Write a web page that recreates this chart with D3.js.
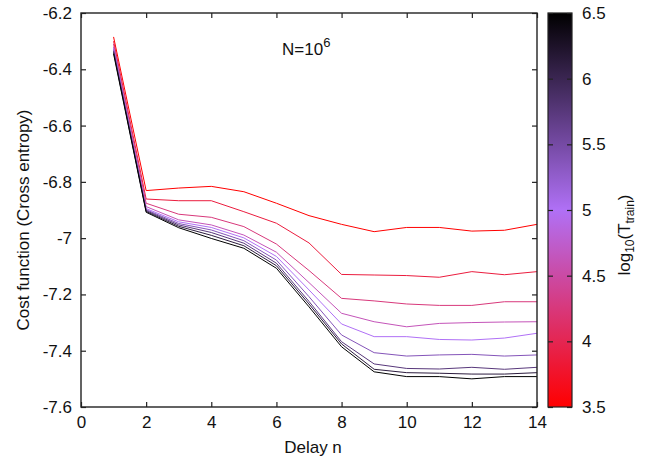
<!DOCTYPE html>
<html>
<head>
<meta charset="utf-8">
<script src="https://cdn.jsdelivr.net/npm/d3@7"></script>
<style>
  body { margin: 0; background: #fff; }
  text { font-family: "Liberation Sans", Arial, sans-serif; fill: #111; }
</style>
</head>
<body>
<svg id="chart" width="649" height="460"></svg>
<script>

// eje x: retardo n
var delays = [1, 2, 3, 4, 5, 6, 7, 8, 9, 10, 11, 12, 13, 14];

// log10(T_train) de cada curva
var logT = [3.5, 3.875, 4.25, 4.625, 5, 5.375, 5.75, 6.125, 6.5];

// costo (cross entropy) por curva
var cost35  = [-6.285, -6.831, -6.822, -6.816, -6.835, -6.876, -6.920, -6.951, -6.977, -6.962, -6.962, -6.975, -6.972, -6.951];
var cost39  = [-6.300, -6.861, -6.867, -6.867, -6.906, -6.947, -7.017, -7.129, -7.131, -7.133, -7.139, -7.119, -7.130, -7.119];
var cost43  = [-6.310, -6.876, -6.915, -6.926, -6.959, -7.021, -7.115, -7.214, -7.223, -7.234, -7.239, -7.239, -7.226, -7.226];
var cost46  = [-6.320, -6.888, -6.935, -6.953, -6.989, -7.050, -7.158, -7.267, -7.297, -7.315, -7.303, -7.300, -7.298, -7.297];
var cost50  = [-6.325, -6.895, -6.942, -6.962, -6.999, -7.065, -7.184, -7.305, -7.350, -7.350, -7.360, -7.362, -7.355, -7.338];
var cost54  = [-6.330, -6.899, -6.948, -6.971, -7.009, -7.078, -7.208, -7.344, -7.407, -7.419, -7.415, -7.413, -7.419, -7.415];
var cost58  = [-6.335, -6.902, -6.953, -6.980, -7.018, -7.089, -7.225, -7.368, -7.447, -7.463, -7.465, -7.459, -7.466, -7.459];
var cost61  = [-6.340, -6.905, -6.958, -6.990, -7.027, -7.098, -7.234, -7.376, -7.466, -7.478, -7.480, -7.483, -7.483, -7.478];
var cost65  = [-6.345, -6.908, -6.963, -7.001, -7.036, -7.107, -7.244, -7.386, -7.475, -7.492, -7.492, -7.500, -7.492, -7.492];
var costSeries = [cost35, cost39, cost43, cost46, cost50, cost54, cost58, cost61, cost65];

var xTicks = [0, 2, 4, 6, 8, 10, 12, 14];
var yTicks = [-6.2, -6.4, -6.6, -6.8, -7, -7.2, -7.4, -7.6];
var cbTicks = [3.5, 4, 4.5, 5, 5.5, 6, 6.5];

var LEFT = 81, RIGHT = 537, TOP = 13, BOTTOM = 407;
var TICK = 5;

var svg = d3.select('#chart');

var x = d3.scaleLinear().domain([0, 14]).range([LEFT, RIGHT]);
var y = d3.scaleLinear().domain([-7.6, -6.2]).range([BOTTOM, TOP]);
var color = d3.scaleLinear().domain([3.5, 5, 6.5]).range(['#ff0000', '#b070f6', '#000000']);
var cbY = d3.scaleLinear().domain([3.5, 6.5]).range([BOTTOM, TOP]);

function estiloEje(g){
  g.select('.domain').remove();
  g.selectAll('line').attr('stroke', '#222').attr('stroke-width', 1.2);
  g.selectAll('text').attr('font-size', 17).attr('fill', '#111');
}

// curvas
var line = d3.line()
  .x(function(d, i){ return x(delays[i]); })
  .y(function(d){ return y(d); });

svg.append('g').selectAll('path').data(costSeries).enter().append('path')
  .attr('d', line)
  .attr('fill', 'none')
  .attr('stroke', function(d, i){ return color(logT[i]); })
  .attr('stroke-width', 1);

// ejes con ticks hacia adentro
svg.append('g')
  .attr('transform', 'translate(0,' + BOTTOM + ')')
  .call(d3.axisBottom(x).tickValues(xTicks).tickSizeInner(-TICK).tickSizeOuter(0).tickPadding(9).tickFormat(d3.format('d')))
  .call(estiloEje);

svg.append('g')
  .attr('transform', 'translate(0,' + TOP + ')')
  .call(d3.axisTop(x).tickValues(xTicks).tickSizeInner(-TICK).tickSizeOuter(0).tickFormat(''))
  .call(estiloEje);

svg.append('g')
  .attr('transform', 'translate(' + LEFT + ',0)')
  .call(d3.axisLeft(y).tickValues(yTicks).tickSizeInner(-TICK).tickSizeOuter(0).tickPadding(9).tickFormat(function(d){ return String(+d.toFixed(1)); }))
  .call(estiloEje);

svg.append('g')
  .attr('transform', 'translate(' + RIGHT + ',0)')
  .call(d3.axisRight(y).tickValues(yTicks).tickSizeInner(-TICK).tickSizeOuter(0).tickFormat(''))
  .call(estiloEje);

svg.append('rect')
  .attr('x', LEFT).attr('y', TOP)
  .attr('width', RIGHT - LEFT).attr('height', BOTTOM - TOP)
  .attr('fill', 'none').attr('stroke', '#222').attr('stroke-width', 1.4);

// titulo N=10^6
var titulo = svg.append('text')
  .attr('x', 282).attr('y', 55)
  .attr('font-size', 17);
titulo.append('tspan').text('N=10');
titulo.append('tspan').attr('dy', -8).attr('font-size', 13).text('6');

// etiquetas de ejes
svg.append('text')
  .attr('x', x(7) + 4).attr('y', 453)
  .attr('text-anchor', 'middle')
  .attr('font-size', 17)
  .text('Delay n');

svg.append('text')
  .attr('transform', 'translate(29,220) rotate(-90)')
  .attr('text-anchor', 'middle')
  .attr('font-size', 17)
  .text('Cost function (Cross entropy)');

// barra de color
var CB_X = 548, CB_W = 24;
var grad = svg.append('defs').append('linearGradient')
  .attr('id', 'cbGrad')
  .attr('x1', 0).attr('y1', 1).attr('x2', 0).attr('y2', 0);
grad.selectAll('stop').data(d3.range(0, 1.0001, 0.05)).enter().append('stop')
  .attr('offset', function(d){ return d; })
  .attr('stop-color', function(d){ return color(3.5 + d * 3); });

svg.append('rect')
  .attr('x', CB_X).attr('y', TOP)
  .attr('width', CB_W).attr('height', BOTTOM - TOP)
  .attr('fill', 'url(#cbGrad)')
  .attr('stroke', '#222').attr('stroke-width', 1.2);

svg.append('g')
  .attr('transform', 'translate(' + (CB_X + CB_W) + ',0)')
  .call(d3.axisRight(cbY).tickValues(cbTicks).tickSizeInner(-TICK).tickSizeOuter(0).tickPadding(10).tickFormat(function(d){ return String(d); }))
  .call(estiloEje);

svg.append('g')
  .attr('transform', 'translate(' + CB_X + ',0)')
  .call(d3.axisLeft(cbY).tickValues(cbTicks).tickSizeInner(-TICK).tickSizeOuter(0).tickFormat(''))
  .call(estiloEje);

var cbLabel = svg.append('text')
  .attr('transform', 'translate(630,235) rotate(-90)')
  .attr('text-anchor', 'middle')
  .attr('font-size', 17);
cbLabel.append('tspan').text('log');
cbLabel.append('tspan').attr('dy', 4).attr('font-size', 12).text('10');
cbLabel.append('tspan').attr('dy', -4).text('(T');
cbLabel.append('tspan').attr('dy', 4).attr('font-size', 12).text('train');
cbLabel.append('tspan').attr('dy', -4).text(')');

</script>
</body>
</html>
